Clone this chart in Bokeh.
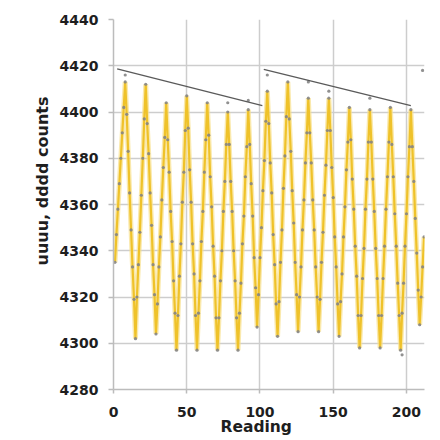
from bokeh.plotting import figure
from bokeh.models import Range1d, FixedTicker, Title
from bokeh.embed import file_html
from bokeh.resources import INLINE

# ---- data ----
counts = [
    4335, 4347, 4358, 4369, 4380, 4391, 4402, 4413,
    4399, 4383, 4365, 4349, 4333, 4319, 4302,
    4320, 4334, 4348, 4364, 4380, 4397, 4412,
    4395, 4382, 4365, 4351, 4334, 4321, 4304,
    4317, 4333, 4346, 4362, 4376, 4389, 4404,
    4388, 4374, 4357, 4344, 4327, 4313, 4297,
    4312, 4329, 4343, 4361, 4374, 4392, 4407,
    4393, 4375, 4361, 4343, 4330, 4312, 4297,
    4313, 4327, 4344, 4357, 4374, 4388, 4404,
    4390, 4372, 4359, 4342, 4329, 4311, 4297,
    4311, 4327, 4340, 4357, 4370, 4386, 4400,
    4386, 4370, 4357, 4340, 4327, 4311, 4297,
    4313, 4326, 4343, 4355, 4372, 4385, 4401,
    4386, 4369, 4355, 4337, 4324, 4307,
    4321, 4337, 4350, 4366, 4379, 4396, 4409,
    4395, 4378, 4365, 4347, 4334, 4317, 4303,
    4318, 4335, 4349, 4367, 4381, 4398, 4413,
    4397, 4383, 4366, 4352, 4335, 4321, 4305,
    4320, 4333, 4349, 4362, 4378, 4391, 4406,
    4391, 4378, 4362, 4349, 4333, 4320, 4305,
    4319, 4335, 4348, 4364, 4377, 4392, 4406,
    4392, 4376, 4363, 4346, 4333, 4317, 4303,
    4318, 4330, 4346, 4359, 4375, 4387, 4402,
    4388, 4371, 4358, 4342, 4329, 4312, 4298,
    4312, 4328, 4341, 4358, 4371, 4387, 4401,
    4387, 4371, 4357, 4341, 4328, 4312, 4298,
    4312, 4328, 4342, 4358, 4372, 4387, 4402,
    4386, 4372, 4356, 4342, 4326, 4312, 4297,
    4313, 4326, 4342, 4356, 4372, 4385, 4401,
    4385, 4370, 4354, 4339, 4323, 4308,
    4320, 4333, 4346,
]
readings = list(range(1, len(counts) + 1))

extra_x = [8, 78, 92, 105, 133, 147, 175, 197, 211]
extra_y = [4416, 4404, 4405, 4416, 4413, 4409, 4406, 4295, 4418]

trend1_x = [2.5, 101.6]
trend1_y = [4418.7, 4402.8]
trend2_x = [102.6, 203.0]
trend2_y = [4418.4, 4402.8]

x_ticks = [0, 50, 100, 150, 200]
y_ticks = [4280, 4300, 4320, 4340, 4360, 4380, 4400, 4420, 4440]

x_title = "Reading"
y_title = "uuuu, dddd counts"

FONT = "DejaVu Sans"
TXT = "#1e1e1e"

p = figure(width=432, height=440, output_backend="svg", toolbar_location=None,
           x_range=Range1d(0, 212.3), y_range=Range1d(4280, 4440),
           min_border_left=113, min_border_right=8, min_border_top=19,
           min_border_bottom=51)
p.outline_line_color = None
p.background_fill_color = "white"
p.border_fill_color = "white"

p.xaxis.ticker = FixedTicker(ticks=x_ticks)
p.yaxis.ticker = FixedTicker(ticks=y_ticks)
p.xgrid.ticker = FixedTicker(ticks=x_ticks)
p.ygrid.ticker = FixedTicker(ticks=y_ticks)

for g in (p.xgrid, p.ygrid):
    g.grid_line_color = "#cdcdcd"
    g.grid_line_width = 1.5

for ax in (p.xaxis, p.yaxis):
    ax.axis_line_color = "#bcbcbc"
    ax.axis_line_width = 1.5
    ax.major_tick_line_color = "#bcbcbc"
    ax.major_tick_line_width = 1.5
    ax.major_tick_in = 0
    ax.minor_tick_line_color = None
    ax.major_label_text_font = FONT
    ax.major_label_text_font_style = "bold"
    ax.major_label_text_font_size = "14px"
    ax.major_label_text_color = TXT

p.yaxis.major_tick_out = 5
p.yaxis.major_label_standoff = 10
p.xaxis.major_tick_out = 4
p.xaxis.major_label_standoff = 13

# yellow trace with pale halo
p.line(readings, counts, line_color="#f8e08a", line_width=5, line_alpha=0.7)
p.line(readings, counts, line_color="#efc22a", line_width=2.2)
p.scatter(readings, counts, size=3.2, fill_color="#858585", line_color=None,
          fill_alpha=0.9)
p.scatter(extra_x, extra_y, size=3.2, fill_color="#858585", line_color=None,
          fill_alpha=0.9)

p.line(trend1_x, trend1_y, line_color="#5a5a5a", line_width=1.3)
p.line(trend2_x, trend2_y, line_color="#5a5a5a", line_width=1.3)

p.add_layout(Title(text=y_title, align="left", offset=124, standoff=10,
                   text_font=FONT, text_font_style="bold",
                   text_font_size="16px", text_color=TXT), "left")
p.add_layout(Title(text=x_title, align="left", offset=107, standoff=-7,
                   text_font=FONT, text_font_style="bold",
                   text_font_size="15.5px", text_color=TXT), "below")

open("out.html", "w").write(file_html(p, INLINE))
